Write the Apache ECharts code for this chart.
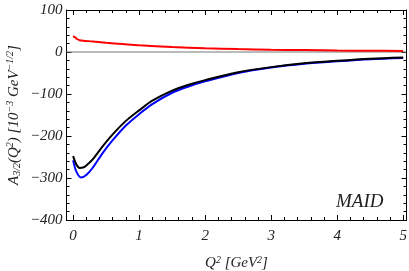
<!DOCTYPE html>
<html>
<head>
<meta charset="utf-8">
<script src="https://cdn.jsdelivr.net/npm/echarts@6/dist/echarts.min.js"></script>
<style>
html,body{margin:0;padding:0;background:#fff;}
#c{width:409px;height:271px;}
</style>
</head>
<body>
<div id="c"></div>
<script>
// Data
var redQ   = [0, 0.03, 0.06, 0.1, 0.15, 0.3, 0.5, 0.75, 1.0, 1.5, 2.0, 2.5, 3.0, 3.5, 4.0, 4.5, 5.0];
var redA   = [38, 35, 31, 28, 27, 25, 22, 19, 16, 12, 9, 7, 5.5, 4.5, 3.5, 3, 2.5];
var blackQ = [0, 0.05, 0.1, 0.15, 0.2, 0.3, 0.45, 0.6, 0.8, 1.0, 1.2, 1.5, 1.75, 2.0, 2.5, 3.0, 3.5, 4.0, 4.5, 5.0];
var blackA = [-248, -268, -276, -275, -270, -255, -224, -196, -164, -139, -116, -92, -78, -67, -48, -36, -27, -21, -16, -13];
var blueQ  = [0, 0.05, 0.12, 0.2, 0.3, 0.45, 0.6, 0.8, 1.0, 1.2, 1.5, 1.75, 2.0, 2.5, 3.0, 3.5, 4.0, 4.5, 5.0];
var blueA  = [-258, -285, -299, -293, -275, -240, -210, -175, -148, -124, -97, -82, -70, -50, -37, -28, -22, -17, -14];
var xMajorTicks = [0, 1, 2, 3, 4, 5];
var xMinorTicks = [0.2,0.4,0.6,0.8,1.2,1.4,1.6,1.8,2.2,2.4,2.6,2.8,3.2,3.4,3.6,3.8,4.2,4.4,4.6,4.8];
var yTicks = [-400, -300, -200, -100, 0, 100];

function pairs(xs, ys){ return xs.map(function(x,i){return [x, ys[i]];}); }

var font = 'Liberation Serif';
var chart = echarts.init(document.getElementById('c'), null, {renderer:'canvas'});
var richStyles = {
  i:{fontFamily:font, fontStyle:'italic', fontSize:15, color:'#222'},
  sup:{fontFamily:font, fontStyle:'italic', fontSize:10, color:'#222', verticalAlign:'top', padding:[0,0,7,0]},
  sub:{fontFamily:font, fontStyle:'italic', fontSize:10, color:'#222', verticalAlign:'bottom', padding:[6,0,0,0]}
};
function xAx(pos, showLabel, ticks, len, withName){
  var a = {
    type:'value', position:pos, min:-0.1, max:5.05,
    axisLine:{show:true, onZero:false, lineStyle:{color:'#000', width:1}},
    axisTick:{show:true, inside:true, length:len, customValues:ticks, lineStyle:{color:'#000', width:1}},
    axisLabel:{show:showLabel, customValues:xMajorTicks, margin:9, fontFamily:font, fontStyle:'italic', fontSize:15, color:'#222'},
    splitLine:{show:false}
  };
  if (withName){
    a.name = '{i|Q}{sup|2}{i| [GeV}{sup|2}{i|]}';
    a.nameLocation = 'middle';
    a.nameGap = 35;
    a.nameTextStyle = {rich:richStyles};
  }
  return a;
}
function yAx(pos, showLabel, withName){
  var a = {
    type:'value', position:pos, min:-400, max:100, interval:100,
    axisLine:{show:true, onZero:false, lineStyle:{color:'#000', width:1}},
    axisTick:{show:true, inside:true, length:5, lineStyle:{color:'#000', width:1}},
    minorTick:{show:true, splitNumber:5, length:3, lineStyle:{color:'#000', width:1}},
    axisLabel:{show:showLabel, margin:4, fontFamily:font, fontStyle:'italic', fontSize:15, color:'#222',
      formatter:function(v){ return String(v).replace('-', '\u2212'); }},
    splitLine:{show:false}
  };
  if (withName){
    a.name = '{i|A}{sub|3/2}{i|(Q}{sup|2}{i|) [10}{sup|\u22123}{i| GeV}{sup|\u22121/2}{i|]}';
    a.nameLocation = 'middle';
    a.nameGap = 44;
    a.nameMoveOverlap = false;
    a.nameRotate = 90;
    a.nameTextStyle = {rich:richStyles};
  }
  return a;
}
chart.setOption({
  animation:false,
  backgroundColor:'#fff',
  grid:{left:66.5, right:2.5, top:10, bottom:51, containLabel:false, outerBoundsMode:'none'},
  xAxis:[
    xAx('bottom', true, xMajorTicks, 5, true),
    xAx('bottom', false, xMinorTicks, 3, false),
    xAx('top', false, xMajorTicks, 5, false),
    xAx('top', false, xMinorTicks, 3, false)
  ],
  yAxis:[ yAx('left', true, true), yAx('right', false, false) ],
  series:[
    {type:'line', data:[[-0.1,0],[5.05,0]], xAxisIndex:0, yAxisIndex:0, symbol:'none',
      lineStyle:{color:'#777', width:1}, silent:true},
    {type:'line', data:pairs(redQ, redA), smooth:0.3, symbol:'none', lineStyle:{color:'#ff0000', width:2}},
    {type:'line', data:pairs(blueQ, blueA), smooth:0.3, symbol:'none', lineStyle:{color:'#0000ff', width:2}},
    {type:'line', data:pairs(blackQ, blackA), smooth:0.3, symbol:'none', lineStyle:{color:'#000', width:2}}
  ],
  graphic:[{type:'text', left:336, top:192, style:{text:'MAID', fontFamily:font, fontStyle:'italic', fontSize:19, fill:'#222'}}]
});
</script>
</body>
</html>
